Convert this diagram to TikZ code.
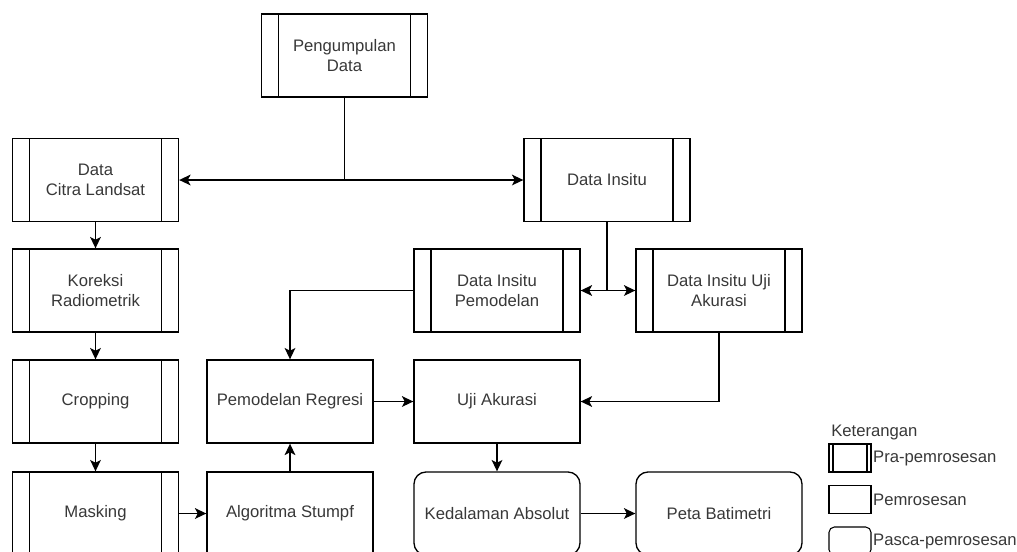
\documentclass[tikz,border=0pt]{standalone}
\usepackage{fontspec}
\setmainfont{Liberation Sans}
\usetikzlibrary{positioning,arrows.meta,calc}

\begin{document}
\begin{tikzpicture}[
  x=0.75pt, y=-0.75pt,
  every node/.style={font=\fontsize{12.5}{15}\selectfont, text=black!78, align=center, inner sep=0pt},
  sidebars/.style={path picture={
      \draw[line width=1pt] ([xshift=#1]path picture bounding box.north west) -- ([xshift=#1]path picture bounding box.south west);
      \draw[line width=1pt] ([xshift=-#1]path picture bounding box.north east) -- ([xshift=-#1]path picture bounding box.south east);}},
  probox/.style={draw, line width=1pt, minimum width=124.5pt, minimum height=62.25pt},
  prabox/.style={probox, sidebars=12.75pt},
  pascabox/.style={probox, rounded corners=9pt},
  legbox/.style={draw, line width=0.8pt, minimum width=31.5pt, minimum height=21pt},
  legtext/.style={anchor=west},
  arr/.style={-{Stealth[length=8.5pt,width=8pt,inset=2pt]}, line width=1pt},
  arrs/.style={{Stealth[length=8.5pt,width=8pt,inset=2pt]}-{Stealth[length=8.5pt,width=8pt,inset=2pt]}, line width=1pt}
]
\useasboundingbox (0,0) rectangle (1017,551);
\clip (0,0) rectangle (1017,551);

% pra-pemrosesan
\node[prabox] (kumpul) at (344.5,55.5) {Pengumpulan\\Data};
\node[prabox] (citra)  at (95.5,180)   {Data\\Citra Landsat};
\node[prabox] (insitu) at (607,180)    {Data Insitu};
\node[prabox] (koreksi) at (95.5,290.5) {Koreksi\\Radiometrik};
\node[prabox] (crop)   at (95.5,401.5) {Cropping};
\node[prabox] (mask)   at (95.5,513.5) {Masking};
\node[prabox] (insmod) at (497,290.5)  {Data Insitu\\Pemodelan};
\node[prabox] (insuji) at (719,290.5)  {Data Insitu Uji\\Akurasi};

% pemrosesan
\node[probox] (regresi) at (290,401.5) {Pemodelan Regresi};
\node[probox] (uji)     at (497,401.5) {Uji Akurasi};
\node[probox] (stumpf)  at (290,513.5) {Algoritma Stumpf};

% pasca-pemrosesan
\node[pascabox] (absolut) at (497,513.5) {Kedalaman Absolut};
\node[pascabox] (peta)    at (719,513.5) {Peta Batimetri};

% connectors
\coordinate (j1) at (kumpul.south |- citra.east);
\coordinate (j2) at (insitu.south |- insmod.east);
\draw[line width=1pt] (kumpul.south) -- (j1);
\draw[arr] (j1) -- (citra.east);
\draw[arr] (j1) -- (insitu.west);
\draw[line width=1pt] (insitu.south) -- (j2);
\draw[arr] (j2) -- (insmod.east);
\draw[arr] (j2) -- (insuji.west);
\draw[arr] (citra) -- (koreksi);
\draw[arr] (koreksi) -- (crop);
\draw[arr] (crop) -- (mask);
\draw[arr] (mask) -- (stumpf);
\draw[arr] (stumpf) -- (regresi);
\draw[arr] (insmod.west) -| (regresi.north);
\draw[arr] (regresi) -- (uji);
\draw[arr] (insuji.south) |- (uji.east);
\draw[arr] (uji) -- (absolut);
\draw[arr] (absolut) -- (peta);

% keterangan
\node[legtext] (ket) at (831,432) {Keterangan};
\node[legbox, sidebars=3pt] (lpra) at (850,458) {};
\node[legbox] (lpro) at (850,499.5) {};
\node[legbox, rounded corners=4pt] (lpasca) at (850,541) {};
\node[legtext] at ([xshift=1pt]lpra.east)   {Pra-pemrosesan};
\node[legtext] at ([xshift=1pt]lpro.east)   {Pemrosesan};
\node[legtext] at ([xshift=1pt]lpasca.east) {Pasca-pemrosesan};
\end{tikzpicture}
\end{document}
